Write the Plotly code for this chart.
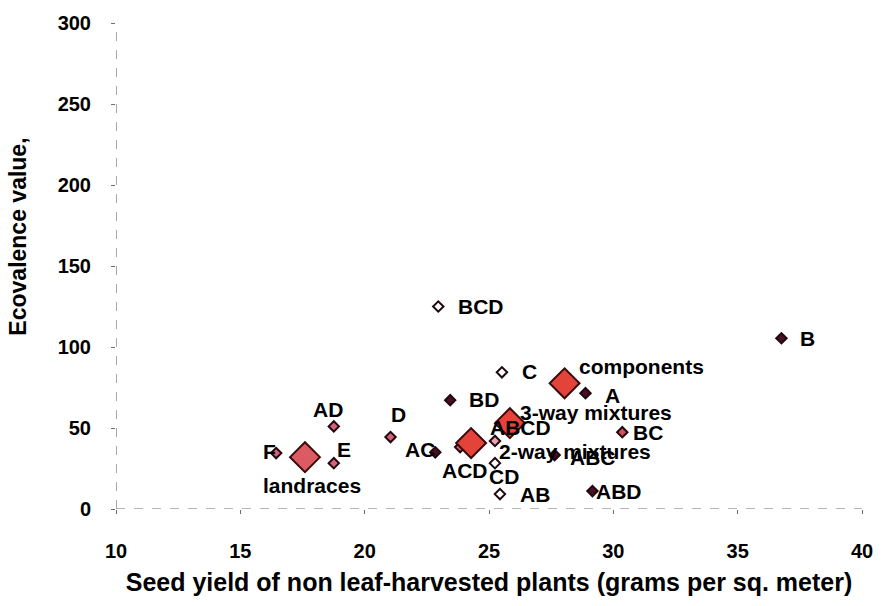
import plotly.graph_objects as go

# Individual entries: components, landraces and their mixtures
names = ["F", "E", "AD", "D", "AC", "ACD", "CD", "ABCD", "AB", "ABC",
         "ABD", "BC", "A", "BD", "C", "BCD", "B"]
seed_yield = [16.44, 18.76, 18.76, 21.04, 22.84, 23.84, 25.24, 25.24, 25.44, 27.64,
              29.16, 30.36, 28.88, 23.44, 25.52, 22.96, 36.76]
ecovalence = [34.5, 28.3, 51.0, 44.4, 35.0, 38.2, 28.3, 42.0, 9.2, 33.3,
              11.1, 47.4, 71.5, 67.2, 84.4, 125.0, 105.4]

# Group means
group_names = ["landraces", "2-way mixtures", "3-way mixtures", "components"]
group_yield = [17.6, 24.28, 25.84, 28.04]
group_ecovalence = [32.0, 40.7, 53.0, 77.6]

x_ticks = [10, 15, 20, 25, 30, 35, 40]
y_ticks = [0, 50, 100, 150, 200, 250, 300]

# Marker fills and label offsets (pixels) for each entry
PINK, DARK, WHITE, LIGHT = "#d9607a", "#4a0f22", "#ffffff", "#e6a3b0"
fills = [PINK, PINK, PINK, PINK, DARK, PINK, WHITE, LIGHT, WHITE, DARK,
         DARK, "#d0505e", DARK, DARK, WHITE, WHITE, DARK]
label_shift = [(-7, 2), (10, 14), (-6, 17), (8, 23), (-15, 3), (5, -23), (9, -13),
               (26, 13), (35, 0), (38, -2), (27, 0), (26, 0), (27, -2), (34, 1),
               (28, 1), (43, 0), (26, 0)]
group_shift = [(7, -28), (104, -8), (86, 11), (77, 17)]

FONT = "Liberation Sans, Arial, sans-serif"
LABEL_FONT = dict(family=FONT, size=21, color="#000", weight="bold")

fig = go.Figure()

fig.add_trace(go.Scatter(
    x=seed_yield, y=ecovalence, mode="markers", text=names,
    marker=dict(symbol="diamond", size=8, color=fills,
                line=dict(color="#200810", width=2)),
    hoverinfo="text", showlegend=False,
))

fig.add_trace(go.Scatter(
    x=group_yield, y=group_ecovalence, mode="markers", text=group_names,
    marker=dict(symbol="diamond", size=23,
                color=["#dc5a62", "#e4433a", "#e4433a", "#e4433a"],
                line=dict(color="#3a0a0a", width=2)),
    hoverinfo="text", showlegend=False,
))

annotations = []
for n, xv, yv, (dx, dy) in zip(names, seed_yield, ecovalence, label_shift):
    annotations.append(dict(x=xv, y=yv, text=n, showarrow=False,
                            xshift=dx, yshift=dy, font=LABEL_FONT))
for n, xv, yv, (dx, dy) in zip(group_names, group_yield, group_ecovalence, group_shift):
    annotations.append(dict(x=xv, y=yv, text=n, showarrow=False,
                            xshift=dx, yshift=dy, font=LABEL_FONT))

# Y-axis title, placed slightly above the plot's vertical centre
annotations.append(dict(
    xref="paper", yref="paper", x=-0.131, y=0.561, text="Ecovalence value,",
    xanchor="center", yanchor="middle", textangle=-90, showarrow=False,
    font=dict(family=FONT, size=23, color="#000", weight="bold"),
))

# Dashed axis lines
axis_style = dict(color="#6e6e6e", width=1.2, dash="dash")
shapes = [
    dict(type="line", xref="x", yref="y", x0=10, x1=10, y0=0, y1=300, line=axis_style),
    dict(type="line", xref="x", yref="y", x0=10, x1=40, y0=0, y1=0, line=axis_style),
]

fig.update_layout(
    width=885, height=606,
    margin=dict(l=116, r=19, t=22, b=97),
    paper_bgcolor="white", plot_bgcolor="white",
    font=dict(family=FONT, size=20, color="#000"),
    annotations=annotations, shapes=shapes,
    xaxis=dict(range=[10, 40], tickvals=x_ticks, showgrid=False, zeroline=False,
               showline=False, ticks="outside", ticklen=4, tickcolor="#6e6e6e",
               ticklabelstandoff=20,
               tickfont=dict(family=FONT, size=20, weight="bold"),
               title=dict(text="Seed yield of non leaf-harvested plants (grams per sq. meter)",
                          font=dict(family=FONT, size=25, weight="bold"), standoff=12)),
    yaxis=dict(range=[0, 300], tickvals=y_ticks, showgrid=False, zeroline=False,
               showline=False, ticks="outside", ticklen=4, tickcolor="#6e6e6e",
               ticklabelstandoff=16,
               tickfont=dict(family=FONT, size=20, weight="bold")),
)

fig.write_html("out.html")
